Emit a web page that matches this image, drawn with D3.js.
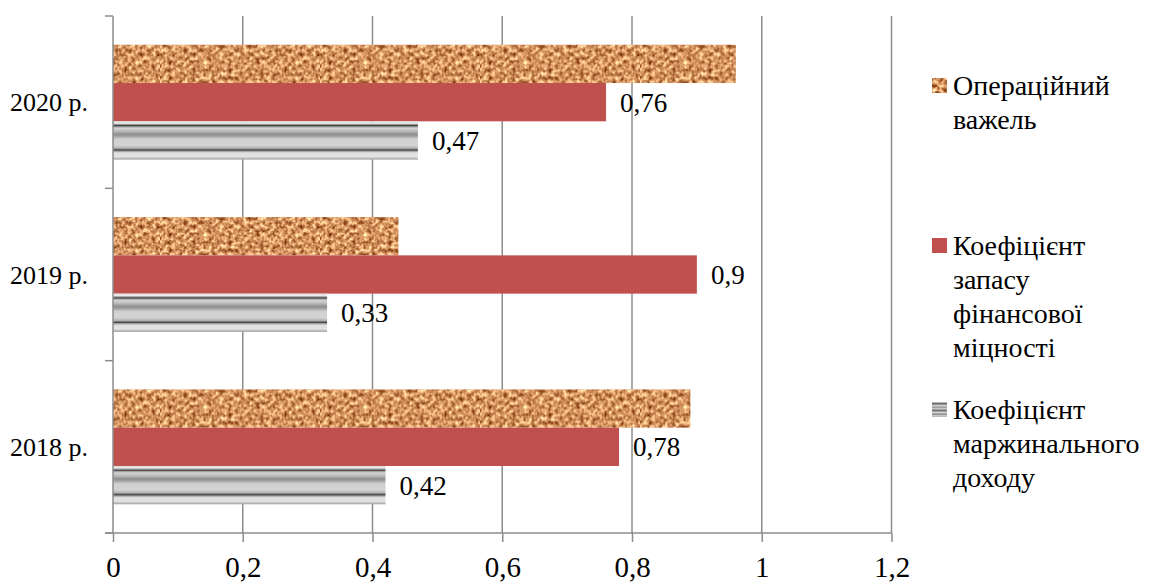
<!DOCTYPE html>
<html>
<head>
<meta charset="utf-8">
<script src="https://cdn.jsdelivr.net/npm/d3@7"></script>
<style>
  html, body { margin: 0; padding: 0; background: #fff; }
  svg { display: block; }
</style>
</head>
<body>
<svg id="chart" width="1152" height="583"></svg>
<script>
// Categories (top to bottom) and series
const categories = ["2020 р.", "2019 р.", "2018 р."];
const seriesNames = [
  ["Операційний", "важель"],
  ["Коефіцієнт", "запасу", "фінансової", "міцності"],
  ["Коефіцієнт", "маржинального", "доходу"]
];
const operatingLeverage = [0.96, 0.44, 0.89];
const safetyMargin = [0.76, 0.9, 0.78];
const contributionMargin = [0.47, 0.33, 0.42];
const xTicks = [0, 0.2, 0.4, 0.6, 0.8, 1, 1.2];
const xTickLabels = ["0", "0,2", "0,4", "0,6", "0,8", "1", "1,2"];

const FONT = '"Liberation Serif"';

const series = [
  { key: "op", values: operatingLeverage, fill: "url(#corkPat)", labels: false },
  { key: "safety", values: safetyMargin, fill: "#c0504d", labels: true },
  { key: "margin", values: contributionMargin, fill: "url(#stripeGrad)", labels: true }
];

const svg = d3.select("#chart");
const plot = { left: 113, right: 891.5, top: 16, bottom: 533 };

const x = d3.scaleLinear().domain([0, 1.2]).range([plot.left, plot.right]);
const y = d3.scaleBand().domain(categories).range([plot.top, plot.bottom])
  .paddingInner(1 / 3).paddingOuter(1 / 6);
const ySub = d3.scaleBand().domain(series.map(s => s.key)).range([0, y.bandwidth()]);

const defs = svg.append("defs");

// Cork-like texture from fractal noise
const f = defs.append("filter").attr("id", "corkNoise")
  .attr("x", 0).attr("y", 0).attr("width", 1).attr("height", 1)
  .attr("color-interpolation-filters", "sRGB");
f.append("feTurbulence").attr("type", "fractalNoise").attr("baseFrequency", 0.25)
  .attr("numOctaves", 3).attr("seed", 11).attr("result", "noise");
f.append("feColorMatrix").attr("in", "noise").attr("type", "matrix")
  .attr("values", "1.1 0 0 0 0.28  1.2 0 0 0 -0.02  1.1 0 0 0 -0.17  0 0 0 0 1")
  .attr("result", "col");
f.append("feComposite").attr("in", "col").attr("in2", "SourceGraphic").attr("operator", "in");

const pat = defs.append("pattern").attr("id", "corkPat").attr("patternUnits", "userSpaceOnUse")
  .attr("width", 160).attr("height", 160);
pat.append("rect").attr("width", 160).attr("height", 160).attr("fill", "#c98f58")
  .attr("filter", "url(#corkNoise)");

// Horizontal chrome-like stripes for the contribution margin bars
const g = defs.append("linearGradient").attr("id", "stripeGrad")
  .attr("x1", 0).attr("y1", 0).attr("x2", 0).attr("y2", 1);
[
  [0.00, "#d8d8d8"], [0.05, "#ececec"], [0.09, "#8a8a8a"], [0.11, "#3c3c3c"], [0.14, "#9a9a9a"],
  [0.18, "#d4d4d4"], [0.26, "#b8b8b8"], [0.34, "#8e8e8e"], [0.40, "#a8a8a8"], [0.46, "#d0d0d0"],
  [0.62, "#d4d4d4"], [0.70, "#b4b4b4"], [0.75, "#444444"], [0.78, "#9a9a9a"], [0.82, "#dedede"],
  [0.92, "#e4e4e4"], [1.00, "#a0a0a0"]
].forEach(([o, c]) => g.append("stop").attr("offset", o).attr("stop-color", c));

// Legend-sized stripes
const gl = defs.append("linearGradient").attr("id", "stripeLegend")
  .attr("x1", 0).attr("y1", 0).attr("x2", 0).attr("y2", 1);
[
  [0.0, "#e0e0e0"], [0.12, "#555"], [0.22, "#d8d8d8"], [0.35, "#999"], [0.45, "#d0d0d0"],
  [0.58, "#666"], [0.68, "#dedede"], [0.82, "#888"], [0.92, "#d8d8d8"], [1, "#aaa"]
].forEach(([o, c]) => gl.append("stop").attr("offset", o).attr("stop-color", c));

const gridColor = "#8c8c8c";

// Vertical gridlines
svg.append("g").selectAll("line").data(xTicks.filter(t => t > 0)).join("line")
  .attr("x1", d => x(d)).attr("x2", d => x(d))
  .attr("y1", plot.top).attr("y2", plot.bottom)
  .attr("stroke", gridColor).attr("stroke-width", 1.5);

// Bars
const groups = svg.append("g").selectAll("g").data(categories).join("g")
  .attr("transform", d => `translate(0,${y(d)})`);

series.forEach(s => {
  groups.append("rect")
    .attr("x", x(0))
    .attr("y", ySub(s.key))
    .attr("height", ySub.bandwidth())
    .attr("width", (d, i) => x(s.values[i]) - x(0))
    .attr("fill", s.fill);
  if (s.labels) {
    groups.append("text")
      .attr("x", (d, i) => x(s.values[i]) + 14)
      .attr("y", ySub(s.key) + ySub.bandwidth() / 2)
      .attr("dy", "0.35em")
      .style("font-family", FONT)
      .style("font-size", "27px")
      .text((d, i) => String(s.values[i]).replace(".", ","));
  }
});

// Axes
const xAxis = svg.append("g").attr("transform", `translate(0,${plot.bottom})`)
  .call(d3.axisBottom(x).tickValues(xTicks).tickSize(9).tickPadding(14)
    .tickFormat((d, i) => xTickLabels[i]));
xAxis.select(".domain").attr("stroke", gridColor).attr("stroke-width", 1.5)
  .attr("d", `M${plot.left - 8},0H${plot.right}`);
xAxis.selectAll(".tick line").attr("stroke", gridColor).attr("stroke-width", 1.5);
xAxis.selectAll(".tick text").attr("fill", "#000")
  .style("font-family", FONT).style("font-size", "29px");

const yAxis = svg.append("g").attr("transform", `translate(${plot.left},0)`);
yAxis.append("line").attr("x1", 0).attr("x2", 0).attr("y1", plot.top).attr("y2", plot.bottom)
  .attr("stroke", gridColor).attr("stroke-width", 1.5);
const step = y.step();
const bounds = [plot.top, plot.top + step, plot.top + 2 * step, plot.bottom];
yAxis.selectAll("line.tk").data(bounds).join("line").attr("class", "tk")
  .attr("x1", -8).attr("x2", 0).attr("y1", d => d).attr("y2", d => d)
  .attr("stroke", gridColor).attr("stroke-width", 1.5);
yAxis.selectAll("text").data(categories).join("text")
  .attr("x", -25).attr("y", d => y(d) + y.bandwidth() / 2)
  .attr("dy", "0.35em").attr("text-anchor", "end")
  .style("font-family", FONT).style("font-size", "26px")
  .text(d => d);

// Legend
const legendFills = ["url(#corkPat)", "#c0504d", "url(#stripeLegend)"];
const legendTop = [85, 245, 409];
const lineH = 34;
const legend = svg.append("g");
seriesNames.forEach((lines, i) => {
  const lg = legend.append("g");
  lg.append("rect").attr("x", 932).attr("y", legendTop[i] - 7).attr("width", 15).attr("height", 15)
    .attr("fill", legendFills[i]);
  lg.selectAll("text").data(lines).join("text")
    .attr("x", 953).attr("y", (d, j) => legendTop[i] + j * lineH)
    .attr("dy", "0.35em")
    .style("font-family", FONT).style("font-size", "28px")
    .text(d => d);
});
</script>
</body>
</html>
